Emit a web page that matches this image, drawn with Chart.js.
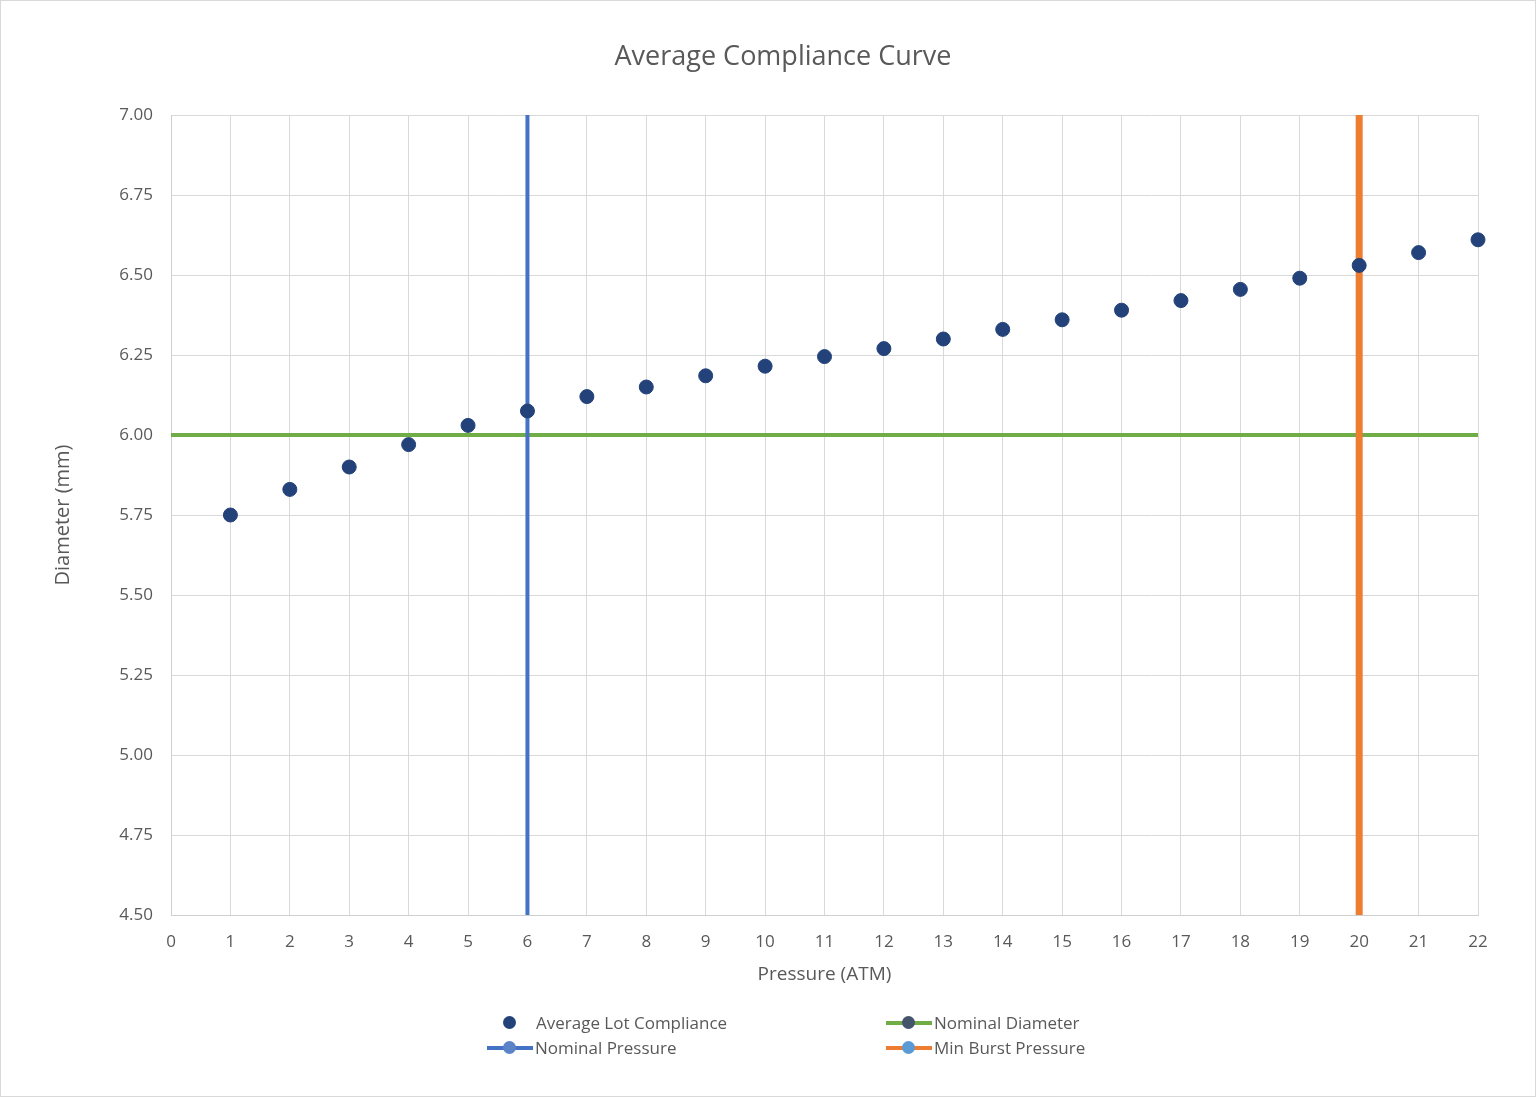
<!DOCTYPE html>
<html>
<head>
<meta charset="utf-8">
<script src="https://cdn.jsdelivr.net/npm/chart.js@4"></script>
<style>
  body { margin: 0; background: #fff; }
  #wrap { position: relative; width: 1536px; height: 1097px; box-sizing: border-box; border: 1px solid #d9d9d9; }
  #chart { position: absolute; left: 0; top: 0; }
  #title { position: absolute; left: 0; width: 1564px; top: 35px; text-align: center; font: 27px "Open Sans", sans-serif; color: #595959; }
  #legend { position: absolute; top: 1009px; left: 0; width: 100%; font: 17px "Open Sans", sans-serif; color: #595959; }
  .item { position: absolute; height: 25px; display: flex; align-items: center; }
  .sym { position: relative; width: 46px; height: 25px; }
  .sym .ln { position: absolute; left: 0; right: 0; top: 11px; height: 4px; }
  .sym .dt { position: absolute; left: 16px; top: 6px; width: 13px; height: 13px; border-radius: 50%; }
</style>
</head>
<body>
<div id="wrap">
  <canvas id="chart" width="1536" height="1097"></canvas>
  <div id="title">Average Compliance Curve</div>
  <div id="legend"></div>
</div>
<script>
// ================= DATA =================
const pressure = [1, 2, 3, 4, 5, 6, 7, 8, 9, 10, 11, 12, 13, 14, 15, 16, 17, 18, 19, 20, 21, 22];
const diameter = [5.75, 5.83, 5.90, 5.97, 6.03, 6.075, 6.12, 6.15, 6.185, 6.215, 6.245, 6.27, 6.30, 6.33, 6.36, 6.39, 6.42, 6.455, 6.49, 6.53, 6.57, 6.61];

const nominalDiameterX = [0, 22];
const nominalDiameterY = [6.0, 6.0];
const nominalPressureX = [6, 6];
const nominalPressureY = [4.5, 7.0];
const burstPressureX = [20, 20];
const burstPressureY = [4.5, 7.0];

const toPts = (xs, ys) => xs.map((x, i) => ({ x, y: ys[i] }));

const gridColor = "#d9d9d9";
const textColor = "#595959";
const font = "Open Sans";

// ================= CHART =================
const chart = new Chart(document.getElementById("chart"), {
    type: "scatter",
    data: {
        datasets: [
            {
                label: "Average Lot Compliance",
                data: toPts(pressure, diameter),
                backgroundColor: "#23427a",
                borderColor: "#23427a",
                pointRadius: 7,
                clip: false,
                order: 0,
                legendLine: null, legendDot: "#23427a"
            },
            {
                label: "Nominal Diameter",
                type: "line",
                data: toPts(nominalDiameterX, nominalDiameterY),
                borderColor: "#70ad47",
                borderWidth: 4,
                pointRadius: 0,
                order: 3,
                legendLine: "#70ad47", legendDot: "#44546a"
            },
            {
                label: "Nominal Pressure",
                type: "line",
                data: toPts(nominalPressureX, nominalPressureY),
                borderColor: "#4472c4",
                borderWidth: 4,
                pointRadius: 0,
                order: 2,
                legendLine: "#4472c4", legendDot: "#5b84c8"
            },
            {
                label: "Min Burst Pressure",
                type: "line",
                data: toPts(burstPressureX, burstPressureY),
                borderColor: "#ed7d31",
                borderWidth: 7,
                pointRadius: 0,
                order: 1,
                legendLine: "#ed7d31", legendDot: "#5b9bd5"
            }
        ]
    },
    options: {
        responsive: false,
        animation: false,
        layout: { padding: { left: 0, right: 59, top: 114, bottom: 103 } },
        plugins: {
            legend: { display: false },
            tooltip: { enabled: false }
        },
        scales: {
            x: {
                type: "linear",
                min: 0,
                max: 22,
                afterFit: s => { s.height = 80; },
                ticks: { stepSize: 1, padding: 17, color: textColor, font: { family: font, size: 17 } },
                grid: { color: gridColor, drawTicks: false },
                border: { color: "#cfcfcf" },
                title: { display: true, text: "Pressure (ATM)", color: textColor, padding: { top: 4, bottom: 9 }, font: { family: font, size: 19 } }
            },
            y: {
                min: 4.5,
                max: 7.0,
                afterFit: s => { s.width = 170; },
                ticks: { stepSize: 0.25, padding: 18, color: textColor, font: { family: font, size: 17 }, callback: v => v.toFixed(2) },
                grid: { color: gridColor, drawTicks: false },
                border: { color: "#cfcfcf" },
                title: { display: true, text: "Diameter (mm)", color: textColor, padding: { top: 50 }, font: { family: font, size: 20 } }
            }
        }
    }
});

// ================= LEGEND =================
const legendPos = [
    { left: 486, top: 0 },   // Average Lot Compliance
    { left: 885, top: 0 },   // Nominal Diameter
    { left: 486, top: 25 },  // Nominal Pressure
    { left: 885, top: 25 }   // Min Burst Pressure
];
const legend = document.getElementById("legend");
chart.data.datasets.forEach((ds, i) => {
    const item = document.createElement("div");
    item.className = "item";
    item.style.left = legendPos[i].left + "px";
    item.style.top = legendPos[i].top + "px";
    const sym = document.createElement("div");
    sym.className = "sym";
    if (ds.legendLine) {
        const ln = document.createElement("div");
        ln.className = "ln";
        ln.style.background = ds.legendLine;
        sym.appendChild(ln);
    } else {
        sym.style.width = "49px";
    }
    const dt = document.createElement("div");
    dt.className = "dt";
    dt.style.background = ds.legendDot;
    sym.appendChild(dt);
    const txt = document.createElement("span");
    txt.innerText = ds.label;
    txt.style.marginLeft = ds.legendLine ? "2px" : "0px";
    item.appendChild(sym);
    item.appendChild(txt);
    legend.appendChild(item);
});
</script>
</body>
</html>
